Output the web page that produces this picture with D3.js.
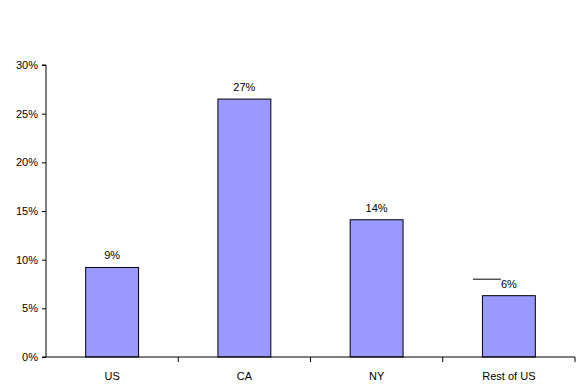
<!DOCTYPE html>
<html>
<head>
<meta charset="utf-8">
<script src="https://cdn.jsdelivr.net/npm/d3@7"></script>
<style>
  body { margin: 0; background: #fff; }
  svg { display: block; font-family: Arial, "Liberation Sans", sans-serif; }
</style>
</head>
<body>
<svg width="581" height="387"></svg>
<script>
const categories = ["US", "CA", "NY", "Rest of US"];
const values = [0.092, 0.265, 0.141, 0.063];
const value_labels = ["9%", "27%", "14%", "6%"];
const y_ticks = [0, 0.05, 0.10, 0.15, 0.20, 0.25, 0.30];

const svg = d3.select("svg");
const margin = { left: 46, right: 6, top: 65, bottom: 30 };
const plot_right = 581 - margin.right;
const plot_bottom = 387 - margin.bottom;

const x = d3.scaleBand()
  .domain(categories)
  .range([margin.left, plot_right])
  .paddingInner(0.6)
  .paddingOuter(0.3);

const y = d3.scaleLinear()
  .domain([0, 0.30])
  .range([plot_bottom, margin.top]);

// y axis
const y_axis = svg.append("g")
  .attr("transform", `translate(${margin.left},0)`)
  .call(d3.axisLeft(y).tickValues(y_ticks).tickFormat(d3.format(".0%")).tickSize(4).tickPadding(4));
y_axis.select(".domain").attr("stroke", "#000").attr("d", `M-4,${margin.top}H0V${plot_bottom}H-4`);
y_axis.selectAll("text").attr("font-size", 11).attr("fill", "#000");

// bars
svg.selectAll(".bar")
  .data(values)
  .join("rect")
  .attr("class", "bar")
  .attr("x", (d, i) => x(categories[i]))
  .attr("y", d => y(d))
  .attr("width", x.bandwidth())
  .attr("height", d => y(0) - y(d))
  .attr("fill", "#9999ff")
  .attr("stroke", "#000")
  .attr("stroke-width", 1);

// x axis with ticks at category boundaries
const step = x.step();
const x_axis = svg.append("g");
x_axis.append("line")
  .attr("x1", margin.left).attr("x2", plot_right)
  .attr("y1", plot_bottom).attr("y2", plot_bottom)
  .attr("stroke", "#000");
x_axis.selectAll(".xtick")
  .data(categories)
  .join("line")
  .attr("class", "xtick")
  .attr("x1", (d, i) => margin.left + step * (i + 1))
  .attr("x2", (d, i) => margin.left + step * (i + 1))
  .attr("y1", plot_bottom).attr("y2", plot_bottom + 5)
  .attr("stroke", "#000");
x_axis.selectAll(".xlabel")
  .data(categories)
  .join("text")
  .attr("class", "xlabel")
  .attr("x", d => x(d) + x.bandwidth() / 2)
  .attr("y", plot_bottom + 23)
  .attr("text-anchor", "middle")
  .attr("font-size", 11)
  .text(d => d);

// value labels
svg.selectAll(".vlabel")
  .data(values)
  .join("text")
  .attr("class", "vlabel")
  .attr("x", (d, i) => x(categories[i]) + x.bandwidth() / 2)
  .attr("y", d => y(d) - 8)
  .attr("text-anchor", "middle")
  .attr("font-size", 11)
  .text((d, i) => value_labels[i]);

// stray leader line next to the last label
const last = categories.length - 1;
const lx = x(categories[last]) + x.bandwidth() / 2;
svg.append("line")
  .attr("x1", lx - 36).attr("x2", lx - 8)
  .attr("y1", y(values[last]) - 16.5).attr("y2", y(values[last]) - 16.5)
  .attr("stroke", "#000");
</script>
</body>
</html>
